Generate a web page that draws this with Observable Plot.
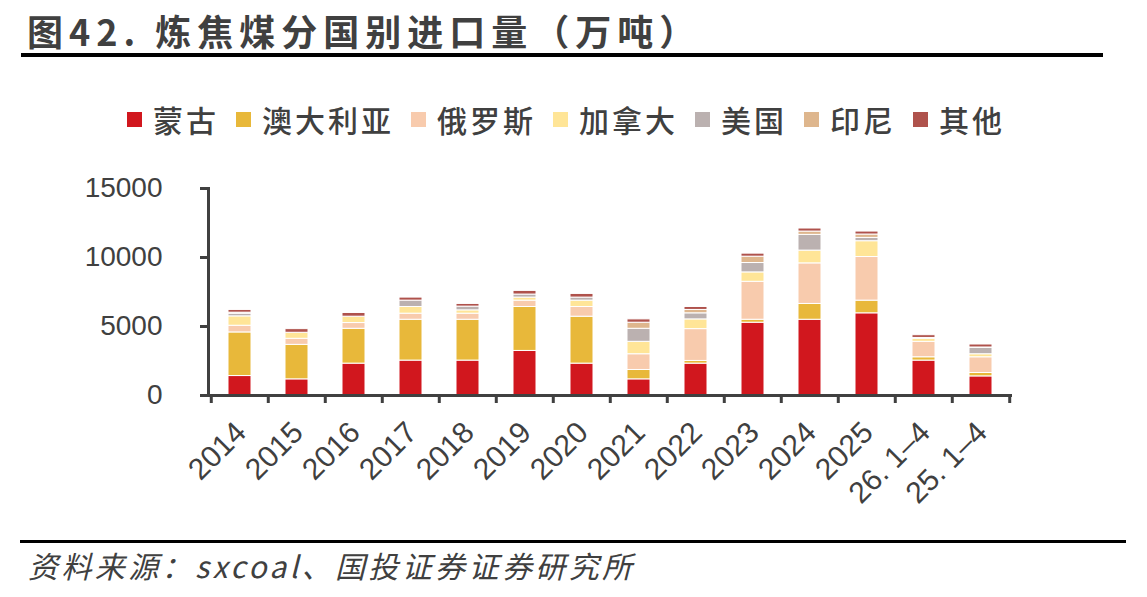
<!DOCTYPE html>
<html>
<head>
<meta charset="utf-8">
<script src="https://cdn.jsdelivr.net/npm/d3@7"></script>
<script src="https://cdn.jsdelivr.net/npm/@observablehq/plot@0.6"></script>
<style>
  html, body { margin: 0; padding: 0; background: #fff; }
  body { width: 1147px; height: 597px; position: relative; overflow: hidden; }
  .title {
    position: absolute; left: 27px; top: 4px;
    font-family: "Noto Sans CJK SC", sans-serif; font-weight: 700;
    font-size: 36px; letter-spacing: 6px; color: #404040; white-space: nowrap;
  }
  .rule { position: absolute; background: #000; }
  .legend {
    position: absolute; left: 127px; top: 97px; display: flex; align-items: center;
    font-family: "Noto Sans CJK SC", sans-serif; font-weight: 500;
    font-size: 30px; letter-spacing: 3px; color: #404040; white-space: nowrap;
  }
  .legend .item { display: flex; align-items: center; margin-right: 17px; }
  .legend .sw { width: 15px; height: 15px; margin-right: 11px; }
  .chart { position: absolute; left: 0; top: 150px; }
  .source {
    position: absolute; left: 28px; top: 543px;
    font-family: "Noto Sans CJK SC", sans-serif; font-style: italic;
    font-size: 30px; letter-spacing: 3.4px; color: #404040; white-space: nowrap;
  }
</style>
</head>
<body>
<div class="title">图42. 炼焦煤分国别进口量（万吨）</div>
<div class="rule" style="left:21px; top:53px; width:1082px; height:4px;"></div>
<div class="legend" id="legend"></div>
<div class="chart" id="chart"></div>
<div class="rule" style="left:20px; top:540px; width:1106px; height:3px;"></div>
<div class="source">资料来源：sxcoal、国投证券证券研究所</div>
<script>
// Coking coal imports by origin country (10k tonnes)
const categories = ["2014", "2015", "2016", "2017", "2018", "2019", "2020", "2021", "2022", "2023", "2024", "2025", "26. 1–4", "25. 1–4"];
const seriesNames = ["蒙古", "澳大利亚", "俄罗斯", "加拿大", "美国", "印尼", "其他"];
const seriesColors = ["#D1171E", "#E8B83A", "#F8CBAD", "#FFE597", "#BBB1B0", "#DEB68D", "#AF524C"];

const mongolia  = [1410, 1170, 2310, 2530, 2530, 3230, 2310, 1170, 2310, 5275, 5490, 5955, 2530, 1385];
const australia = [3160, 2500, 2525, 2960, 2960, 3185, 3400,  680,  195,  215, 1145,  920,  240,  245];
const russia    = [ 485,  440,  415,  440,  440,  460,  705, 1140, 2305, 2750, 2940, 3160, 1120, 1140];
const canada    = [ 680,  435,  460,  485,  240,  220,  460,  900,  705,  680,  925, 1145,  220,  220];
const usa       = [ 195,    0,    0,  460,  270,  220,  220,  945,  440,  680, 1140,  240,   30,  460];
const indonesia = [  70,    0,    0,    0,    0,    0,    0,  440,  245,  460,  240,  245,   30,   30];
const others    = [ 200,  265,  270,  220,  195,  265,  265,  240,  215,  220,  220,  215,  200,  215];

const yTicks = [0, 5000, 10000, 15000];

const seriesValues = [mongolia, australia, russia, canada, usa, indonesia, others];
const rows = [];
seriesNames.forEach((name, i) => {
  categories.forEach((cat, j) => rows.push({cat, series: name, value: seriesValues[i][j]}));
});

// Legend
const legend = document.getElementById("legend");
seriesNames.forEach((name, i) => {
  const item = document.createElement("div");
  item.className = "item";
  const sw = document.createElement("div");
  sw.className = "sw";
  sw.style.background = seriesColors[i];
  const label = document.createElement("span");
  label.textContent = name;
  item.append(sw, label);
  legend.append(item);
});

const W = 1147, H = 370, mL = 208, mR = 135, mT = 38, mB = 125;
const step = (W - mL - mR) / categories.length;
const axisColor = "#404040";

const chart = Plot.plot({
  width: W, height: H,
  marginTop: mT, marginBottom: mB, marginLeft: mL, marginRight: mR,
  style: {fontFamily: "'Liberation Sans', Arial, sans-serif", color: axisColor, background: "transparent", overflow: "visible"},
  x: {domain: categories, paddingInner: 0.6, paddingOuter: 0.3, label: null},
  y: {domain: [0, 15000], label: null},
  color: {domain: seriesNames, range: seriesColors},
  marks: [
    Plot.barY(rows, {x: "cat", y: "value", fill: "series", stroke: "white", strokeWidth: 1, order: seriesNames}),
    Plot.frame({anchor: "left", stroke: axisColor, strokeWidth: 3}),
    Plot.ruleY([0], {stroke: axisColor, strokeWidth: 3}),
    Plot.axisY({ticks: yTicks, tickFormat: d3.format("d"), tickSize: 8, tickPadding: 38, fontSize: 28, stroke: axisColor, strokeWidth: 3, fill: axisColor, label: null}),
    // boundary ticks between categories
    Plot.axisX({tickSize: 8, tickFormat: () => "", dx: -step / 2, stroke: axisColor, strokeWidth: 3, label: null}),
    Plot.axisX({ticks: [categories[categories.length - 1]], tickSize: 8, tickFormat: () => "", dx: step / 2, stroke: axisColor, strokeWidth: 3, label: null}),
    Plot.axisX({tickSize: 0, tickPadding: 32, tickRotate: -45, fontSize: 30, dx: 1, fill: axisColor, label: null})
  ]
});
document.getElementById("chart").append(chart);
</script>
</body>
</html>
